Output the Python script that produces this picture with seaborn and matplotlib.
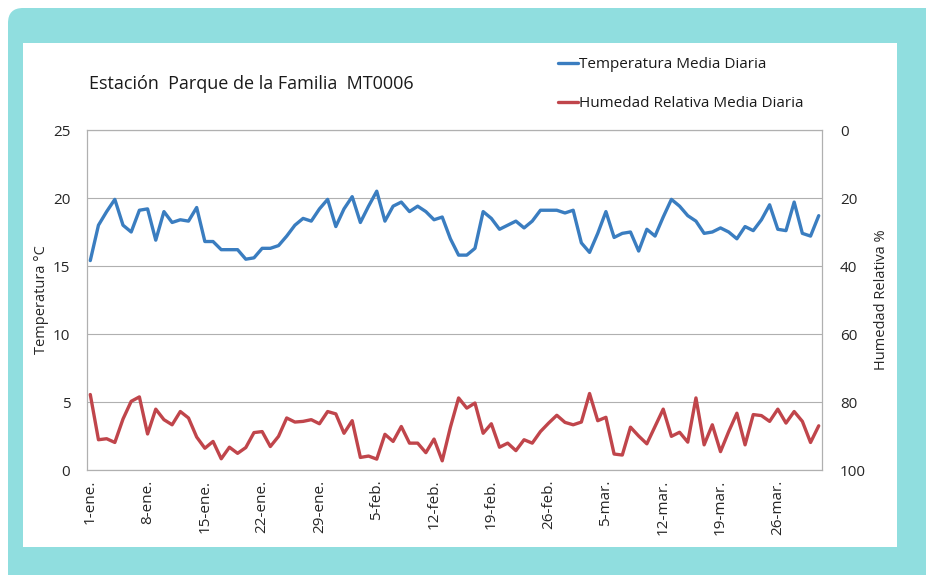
import numpy as np
import pandas as pd
import seaborn as sns
import matplotlib.pyplot as plt
from matplotlib.patches import FancyBboxPatch, Rectangle

# daily values 1-ene .. 31-mar
temperatura = [15.4, 18.0, 19.0, 19.9, 18.0, 17.5, 19.1, 19.2, 16.9, 19.0,
               18.2, 18.4, 18.3, 19.3, 16.8, 16.8, 16.2, 16.2, 16.2, 15.5,
               15.6, 16.3, 16.3, 16.5, 17.2, 18.0, 18.5, 18.3, 19.2, 19.9,
               17.9, 19.2, 20.1, 18.2, 19.4, 20.5, 18.3, 19.4, 19.7, 19.0,
               19.4, 19.0, 18.4, 18.6, 17.0, 15.8, 15.8, 16.3, 19.0, 18.5,
               17.7, 18.0, 18.3, 17.8, 18.3, 19.1, 19.1, 19.1, 18.9, 19.1,
               16.7, 16.0, 17.4, 19.0, 17.1, 17.4, 17.5, 16.1, 17.7, 17.2,
               18.6, 19.9, 19.4, 18.7, 18.3, 17.4, 17.5, 17.8, 17.5, 17.0,
               17.9, 17.6, 18.4, 19.5, 17.7, 17.6, 19.7, 17.4, 17.2, 18.7]

humedad = [77.8, 91.1, 90.8, 91.9, 85.0, 79.8, 78.5, 89.4, 82.1, 85.2,
           86.7, 82.8, 84.7, 90.3, 93.6, 91.6, 96.7, 93.3, 95.1, 93.4,
           89.0, 88.7, 93.1, 90.1, 84.7, 85.9, 85.7, 85.2, 86.4, 82.8,
           83.5, 89.2, 85.5, 96.3, 95.9, 96.8, 89.5, 91.6, 87.2, 92.1,
           92.1, 94.9, 90.9, 97.3, 87.4, 78.8, 81.8, 80.3, 89.2, 86.4,
           93.3, 92.1, 94.3, 91.1, 92.1, 88.7, 86.2, 83.9, 86.0, 86.7,
           85.9, 77.5, 85.5, 84.5, 95.3, 95.6, 87.4, 90.0, 92.3, 87.2,
           82.1, 90.1, 88.9, 91.8, 78.8, 92.6, 86.7, 94.6, 88.7, 83.3,
           92.6, 83.7, 84.0, 85.7, 82.1, 86.2, 82.8, 85.7, 91.9, 87.0]

dia = list(range(len(temperatura)))
tick_dias = [0, 7, 14, 21, 28, 35, 42, 49, 56, 63, 70, 77, 84]
tick_labels = ['1-ene.', '8-ene.', '15-ene.', '22-ene.', '29-ene.', '5-feb.', '12-feb.',
               '19-feb.', '26-feb.', '5-mar.', '12-mar.', '19-mar.', '26-mar.']

df = pd.DataFrame({'dia': dia, 'temp': temperatura, 'hum': humedad})

sns.set_style("white")
plt.rcParams['font.family'] = ['Open Sans', 'DejaVu Sans']
plt.rcParams['text.color'] = '#1a1a1a'

azul = '#3a7dc0'
rojo = '#c0454b'
teal = '#90dedf'
gris = '#b0b0b0'

fig = plt.figure(figsize=(9.26, 5.75), dpi=100)
fig.patch.set_facecolor('white')

# teal frame with white panel
fig.patches.append(FancyBboxPatch((0.08, -0.5), 10, 6.17, boxstyle="round,pad=0,rounding_size=0.15",
                                  transform=fig.dpi_scale_trans, facecolor=teal, edgecolor='none', zorder=-3))
fig.patches.append(Rectangle((0.23, 0.28), 8.74, 5.04, transform=fig.dpi_scale_trans,
                             facecolor='white', edgecolor='none', zorder=-2))

ax = fig.add_axes([87 / 926, 105 / 575, 735 / 926, 340 / 575])
ax.set_facecolor('none')
ax2 = ax.twinx()
ax2.set_facecolor('none')

sns.lineplot(data=df, x='dia', y='temp', ax=ax, color=azul, linewidth=2.4,
             label='Temperatura Media Diaria', legend=False)
sns.lineplot(data=df, x='dia', y='hum', ax=ax2, color=rojo, linewidth=2.4,
             label='Humedad Relativa Media Diaria', legend=False)

ax.set_xlim(-0.4, 89.4)
ax.set_ylim(0, 25)
ax.set_yticks([0, 5, 10, 15, 20, 25])
ax2.set_ylim(100, 0)
ax2.set_yticks([0, 20, 40, 60, 80, 100])

ax.set_xticks(tick_dias)
ax.set_xticklabels(tick_labels, rotation=90, ha='center', va='top')
ax.grid(axis='y', color=gris, linewidth=0.8)
ax.grid(axis='x', visible=False)
ax2.grid(False)

ax.tick_params(axis='x', length=0, pad=7, labelsize=11)
ax.tick_params(axis='y', length=0, pad=12, labelsize=11)
ax2.tick_params(axis='y', length=0, pad=13, labelsize=11)

for a in (ax, ax2):
    for s in a.spines.values():
        s.set_color(gris)
        s.set_linewidth(0.8)

ax.set_xlabel('')
ax.set_ylabel('Temperatura °C', fontsize=10.5, labelpad=3)
ax2.set_ylabel('Humedad Relativa %', fontsize=10.5, labelpad=6)

fig.text(89 / 926, 1 - 84 / 575, 'Estación  Parque de la Familia  MT0006',
         fontsize=13, va='center', ha='left')

h1, l1 = ax.get_legend_handles_labels()
h2, l2 = ax2.get_legend_handles_labels()
fig.legend(h1 + h2, l1 + l2, loc='upper left', bbox_to_anchor=(558 / 926, 1 - 57 / 575),
           frameon=False, fontsize=11, handlelength=1.3, handletextpad=0.1,
           labelspacing=1.6, borderpad=0, borderaxespad=0)

fig.savefig('out.png', dpi=100)
